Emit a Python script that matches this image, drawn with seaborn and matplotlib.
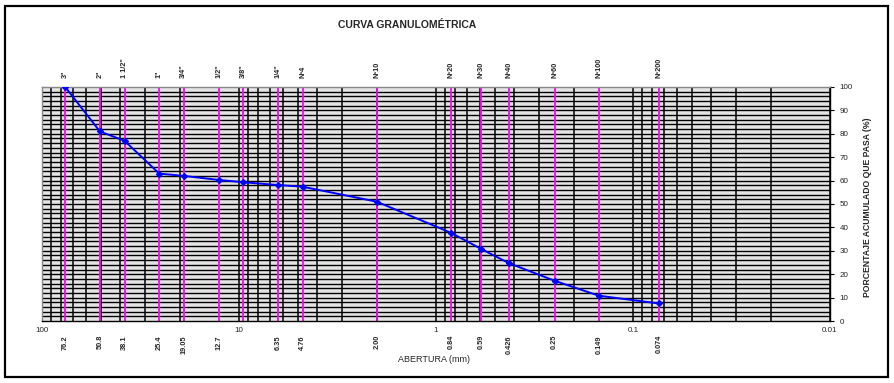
import matplotlib
matplotlib.use("Agg")
import matplotlib.pyplot as plt
import matplotlib.transforms as mtransforms
from matplotlib.patches import Rectangle
import numpy as np
import pandas as pd
import seaborn as sns

sns.set_theme(style="white")
plt.rcParams['font.family'] = ['Liberation Sans', 'DejaVu Sans']

# ---- data ----
sieve_names = ['3"', '2"', '1 1/2"', '1"', '3/4"', '1/2"', '3/8"', '1/4"', 'Nº4',
               'Nº10', 'Nº20', 'Nº30', 'Nº40', 'Nº60', 'Nº100', 'Nº200']
sieve_mm = [76.2, 50.8, 38.1, 25.4, 19.05, 12.7, 9.525, 6.35, 4.76,
            2.00, 0.84, 0.59, 0.426, 0.25, 0.149, 0.074]
sieve_mm_labels = ['76.2', '50.8', '38.1', '25.4', '19.05', '12.7', '', '6.35', '4.76',
                   '2.00', '0.84', '0.59', '0.426', '0.25', '0.149', '0.074']
passing_pct = [100, 81, 77, 63, 62, 60.3, 59.3, 58.1, 57.4,
               51, 37.7, 30.8, 24.7, 17.2, 10.8, 7.5]
x_major = [100, 10, 1, 0.1, 0.01]
x_major_labels = ['100', '10', '1', '0.1', '0.01']
y_ticks = list(range(0, 101, 10))

df = pd.DataFrame({"abertura": sieve_mm, "pasa": passing_pct})

fig = plt.figure(figsize=(8.94, 3.83), dpi=100)
fig.patch.set_facecolor("white")
# outer frame
fig.patches.append(Rectangle((5/894, 6/383), 883/894, 371/383, transform=fig.transFigure,
                             fill=False, edgecolor="black", linewidth=1.6))

ax = fig.add_axes([42/894, 1 - 321/383, (830 - 42)/894, (321 - 87)/383])
ax.set_xscale("log")
ax.set_xlim(100, 0.01)
ax.set_ylim(0, 100)
ax.set_facecolor("#e4e4e4")

# horizontal grid every 2 %
for yv in np.arange(2, 100, 2):
    ax.axhline(yv, color="black", lw=1.0, zorder=1)
# vertical log grid
for dec in [0.01, 0.1, 1, 10]:
    for m in range(1, 10):
        v = dec * m
        if 0.01 <= v <= 100:
            ax.axvline(v, color="black", lw=1.1, zorder=1)
# sieve lines
for s in sieve_mm:
    ax.axvline(s, color="#FF00FF", lw=1.3, zorder=2)

sns.lineplot(data=df, x="abertura", y="pasa", ax=ax, color="#0000FF", lw=1.4,
             marker="D", markersize=3.2, markeredgecolor="#0000FF", zorder=5,
             sort=False, estimator=None)

for sp in ["left", "top"]:
    ax.spines[sp].set_color("#888888")
    ax.spines[sp].set_linewidth(1.0)
for sp in ["right", "bottom"]:
    ax.spines[sp].set_color("black")
    ax.spines[sp].set_linewidth(1.0)

ax.yaxis.tick_right()
ax.yaxis.set_label_position("right")
ax.set_yticks(y_ticks)
ax.set_yticklabels([str(v) for v in y_ticks], fontsize=5.8)
ax.set_xticks(x_major)
ax.set_xticklabels(x_major_labels, fontsize=5.8)
ax.xaxis.set_minor_locator(matplotlib.ticker.NullLocator())
ax.tick_params(axis="both", which="major", direction="out", length=3, width=0.8,
               color="black", pad=1)
ax.tick_params(axis="y", pad=4)
ax.set_xlabel("")
ax.set_ylabel("")

# top sieve names
trans = mtransforms.blended_transform_factory(ax.transData, ax.transAxes)
for s, nm in zip(sieve_mm, sieve_names):
    ax.text(s, 1.04, nm, transform=trans, rotation=90, ha="center", va="bottom",
            fontsize=5.3, fontweight="bold")
# bottom sieve sizes
for s, lb in zip(sieve_mm, sieve_mm_labels):
    if lb:
        ax.text(s, -0.06, lb, transform=trans, rotation=90, ha="center", va="top",
                fontsize=5.3, fontweight="bold")

fig.text(407/894, 1 - 25/383, "CURVA GRANULOMÉTRICA", ha="center", va="center",
         fontsize=7.5, fontweight="bold")
fig.text(434/894, 1 - 360/383, "ABERTURA (mm)", ha="center", va="center", fontsize=6.5)
fig.text(868/894, 1 - 207/383, "PORCENTAJE ACUMULADO QUE PASA (%)", ha="center",
         va="center", rotation=90, fontsize=6.2, fontweight="bold")

fig.savefig("out.png", dpi=100, facecolor="white")
